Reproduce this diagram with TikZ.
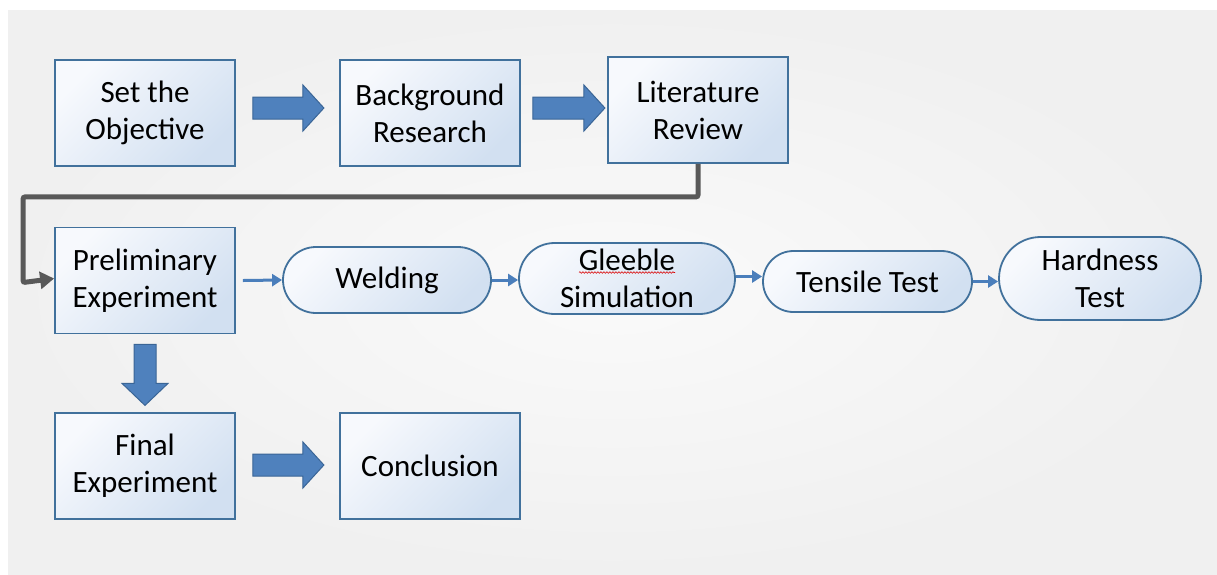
\documentclass[tikz,border=0pt]{standalone}
\usepackage{fontspec}
\setmainfont{Carlito}
\usetikzlibrary{shapes.misc,arrows.meta,calc,decorations.pathmorphing}
\definecolor{bord}{HTML}{41719C}
\definecolor{boxlight}{HTML}{F7F9FD}
\definecolor{boxdark}{HTML}{D2E0F1}
\definecolor{arrfill}{HTML}{4F81BD}
\definecolor{arrdraw}{HTML}{3A6596}
\definecolor{flowcol}{HTML}{4A7EBB}
\definecolor{elbowcol}{HTML}{595959}
\definecolor{panlight}{HTML}{FAFAFA}
\definecolor{pandark}{HTML}{F0F0F0}
\tikzset{
  basefont/.style={font=\fontsize{31}{37}\selectfont, text=black, align=center},
  boxnode/.style={basefont, rectangle, draw=bord, line width=1.8pt,
    top color=boxlight, bottom color=boxdark, shading angle=45,
    minimum width=180pt, minimum height=106pt, inner sep=0pt},
  pill/.style={basefont, rounded rectangle, draw=bord, line width=1.8pt,
    top color=boxlight, bottom color=boxdark, shading angle=45, inner sep=0pt},
  barrow/.style={fill=arrfill, draw=arrdraw, line width=1pt, line join=miter},
  flow/.style={draw=flowcol, line width=3pt, -{Triangle[length=10pt,width=12pt]}},
  elbow/.style={draw=elbowcol, line width=5pt, rounded corners=2pt,
    -{Triangle[length=14pt,width=17pt]}},
}
\begin{document}
\begin{tikzpicture}[x=1pt,y=-1pt]
\useasboundingbox (0,0) rectangle (1217,574);
\shade[inner color=panlight, outer color=pandark] (8,10) rectangle (1217,574);

% rectangular boxes
\node[boxnode] (obj) at (145,113) {Set the\\Objective};
\node[boxnode] (bg)  at (430,113) {Background\\Research};
\node[boxnode] (lit) at (698,110) {Literature\\Review};
\node[boxnode] (pre) at (145,280.5) {Preliminary\\Experiment};
\node[boxnode] (fin) at (145,466) {Final\\Experiment};
\node[boxnode] (con) at (430,466) {Conclusion};

% pills
\node[pill, minimum width=208pt, minimum height=66pt] (weld) at (387,280) {Welding};
\node[pill, minimum width=216pt, minimum height=71pt] (gle) at (627,278.5) {Gleeble\\Simulation};
\node[pill, minimum width=209pt, minimum height=61pt] (ten) at (867.5,281.5) {Tensile Test};
\node[pill, minimum width=202pt, minimum height=83pt] (hard) at (1100,278.5) {Hardness\\Test};

% spell-check squiggle under Gleeble
\draw[red!85!black, line width=0.6pt, decorate,
  decoration={snake, amplitude=0.8pt, segment length=3pt}]
  ($(gle.center)+(-48,-6)$) -- ($(gle.center)+(48,-6)$);

% block arrows
\draw[barrow] ($(obj.east)+(17,-16)$) -- ++(50,0) -- ++(0,-12) -- ++(21,23) -- ++(-21,23) -- ++(0,-12) -- ++(-50,0) -- cycle;
\draw[barrow] ($(bg.east)+(12,-16)$) -- ++(51,0) -- ++(0,-12) -- ++(21,23) -- ++(-21,23) -- ++(0,-12) -- ++(-51,0) -- cycle;
\draw[barrow] ($(fin.east)+(17,-12)$) -- ++(50,0) -- ++(0,-12) -- ++(21,23) -- ++(-21,23) -- ++(0,-12) -- ++(-50,0) -- cycle;
\draw[barrow] ($(pre.south)+(-11,10)$) -- ++(22,0) -- ++(0,39) -- ++(12,0) -- ++(-23,22) -- ++(-23,-22) -- ++(12,0) -- cycle;

% thin flow arrows
\draw[flow] ([xshift=7pt]pre.east) -- (weld.west);
\draw[flow] (weld.east) -- (weld.east -| gle.west);
\draw[flow] ([yshift=2pt]gle.east) -- ([yshift=2pt]gle.east -| ten.west);
\draw[flow] (ten.east) -- (ten.east -| hard.west);

% elbow connector
\draw[elbow] (lit.south) -- ++(0,33) -| ($(pre.west)+(-31,2)$) -- ([yshift=2pt]pre.west);
\end{tikzpicture}
\end{document}
